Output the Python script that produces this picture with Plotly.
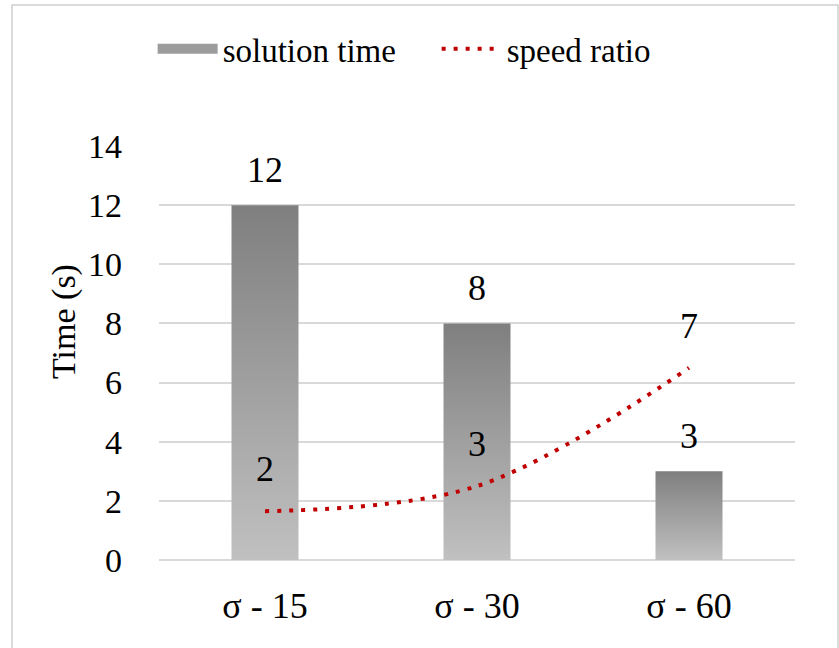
import plotly.graph_objects as go

categories = ["σ - 15", "σ - 30", "σ - 60"]
solution_time = [12, 8, 3]
speed_ratio = [1.65, 2.5, 6.5]
y_ticks = [0, 2, 4, 6, 8, 10, 12, 14]

FONT = "Liberation Serif"
BAR_W = 0.316
xs = list(range(len(categories)))

fig = go.Figure()

# legend entry for the bars (thick gray swatch)
fig.add_trace(go.Scatter(
    x=[None], y=[None], mode="lines", name="solution time", legendgroup="st",
    line=dict(width=20, color="#9c9c9c"),
))

# gradient bars as filled polygons built from data
for i, (x, v) in enumerate(zip(xs, solution_time)):
    fig.add_trace(go.Scatter(
        x=[x - BAR_W / 2, x + BAR_W / 2, x + BAR_W / 2, x - BAR_W / 2, x - BAR_W / 2],
        y=[0, 0, v, v, 0],
        mode="lines", fill="toself", line=dict(width=0, color="rgba(0,0,0,0)"),
        fillgradient=dict(type="vertical",
                          colorscale=[[0, "#c0c0c0"], [1, "#7f7f7f"]]),
        name="solution time", legendgroup="st", showlegend=False,
        hoverinfo="skip",
    ))

fig.add_trace(go.Scatter(
    x=xs, y=speed_ratio, mode="lines", name="speed ratio",
    line=dict(color="#c00000", width=4, dash="4px,8px", shape="spline", smoothing=1),
))

L, R, T, B = 159, 44, 146, 88
W, H = 839, 648
pw, ph = W - L - R, H - T - B

annotations = []
for x, v in zip(xs, solution_time):
    annotations.append(dict(x=x, y=v, xref="x", yref="y", text=f"{v:.0f}",
                            showarrow=False, yanchor="bottom", yshift=13,
                            font=dict(family=FONT, size=36, color="black")))
for x, v in zip(xs, speed_ratio):
    annotations.append(dict(x=x, y=v, xref="x", yref="y", text=f"{int(v + 0.5)}",
                            showarrow=False, yanchor="bottom", yshift=20,
                            font=dict(family=FONT, size=36, color="black")))
annotations.append(dict(x=(64 - L) / pw, y=(H - B - 322) / ph, xref="paper", yref="paper",
                        text="Time (s)", textangle=-90, showarrow=False,
                        xanchor="center", yanchor="middle",
                        font=dict(family=FONT, size=34, color="black")))

fig.update_layout(
    width=W, height=H,
    margin=dict(l=L, r=R, t=T, b=B),
    paper_bgcolor="white", plot_bgcolor="white",
    font=dict(family=FONT, size=33, color="black"),
    showlegend=True,
    legend=dict(orientation="h", x=-0.01, xanchor="left", y=1.235, yanchor="middle",
                font=dict(family=FONT, size=33), itemwidth=60, entrywidth=209,
                bgcolor="rgba(0,0,0,0)", traceorder="normal"),
    xaxis=dict(range=[-0.5, 2.5], tickvals=xs, ticktext=categories,
               showgrid=False, zeroline=False, showline=False, ticks="",
               ticklabelstandoff=21,
               tickfont=dict(family=FONT, size=36)),
    yaxis=dict(range=[0, 14], tickvals=y_ticks, showgrid=True, gridcolor="#d9d9d9",
               gridwidth=1.5, zeroline=True, zerolinecolor="#d9d9d9", zerolinewidth=1.5,
               showline=False, ticks="", ticklabelstandoff=36,
               tickfont=dict(family=FONT, size=34)),
    annotations=annotations,
    shapes=[dict(type="rect", xref="paper", yref="paper",
                 x0=(12 - L) / pw, x1=(838 - L) / pw,
                 y0=(H - B - 660) / ph, y1=(H - B - 5) / ph,
                 line=dict(color="#d0d0d0", width=1.5), fillcolor="rgba(0,0,0,0)",
                 layer="below")],
)

fig.write_html("out.html")
